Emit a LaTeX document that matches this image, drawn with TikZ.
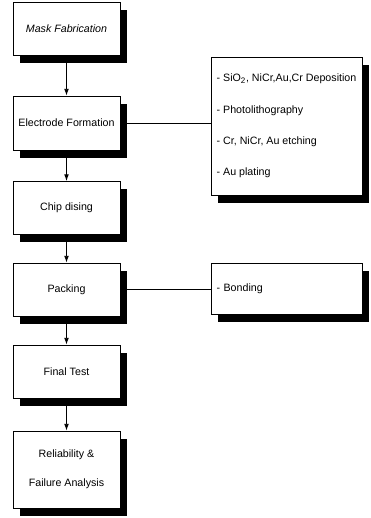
\documentclass[tikz,border=0pt]{standalone}
\usepackage{fontspec}
\setmainfont{Liberation Sans}
\usetikzlibrary{shadows,backgrounds,arrows.meta}

\tikzset{
  stepbox/.style={draw=black, line width=0.6pt, fill=white,
    minimum width=80.25pt, minimum height=39.75pt, align=center,
    font=\fontsize{8}{9.6}\selectfont,
    drop shadow={shadow xshift=5.25pt, shadow yshift=-6pt, fill=black, opacity=1}},
  notebox/.style={stepbox, minimum width=113.25pt, align=left, anchor=center},
  flow/.style={-{Latex[length=5pt,width=3.5pt]}, line width=0.6pt},
  link/.style={line width=0.6pt}
}

\begin{document}
\begin{tikzpicture}[x=0.75pt,y=0.75pt]
\useasboundingbox (0,0) rectangle (371,518);

% ================= LEFT: PROCESS STEPS =================
\node[stepbox, font=\fontsize{8}{9.6}\selectfont\itshape] (mask) at (66.5,489) {Mask Fabrication};
\node[stepbox, minimum height=40.5pt] (elec) at (66.5,395) {Electrode Formation};
\node[stepbox] (chip) at (66.5,310) {Chip dising};
\node[stepbox] (pack) at (66.5,228.5) {Packing};
\node[stepbox] (final) at (66.5,146.5) {Final Test};
\node[stepbox, minimum height=57.75pt] (rel) at (66.5,48.5)
{Reliability \&\\[12pt] Failure Analysis};

% ================= RIGHT: DETAILS =================
\node[notebox, minimum height=103.5pt] (elecsteps) at (286.5,392)
{- SiO\textsubscript{2}, NiCr,Au,Cr Deposition\\[14pt]
- Photolithography\\[14pt]
- Cr, NiCr, Au etching\\[14pt]
- Au plating};
\node[notebox, minimum height=38.25pt, text width=105pt] (packsteps) at (286.5,229.5)
{- Bonding};

% ================= CONNECTORS =================
\begin{scope}[on background layer]
\draw[flow] (mask) -- (elec);
\draw[flow] (elec) -- (chip);
\draw[flow] (chip) -- (pack);
\draw[flow] (pack) -- (final);
\draw[flow] (final) -- (rel);
\draw[link] (elec.east) -- (elec.east -| elecsteps.west);
\draw[link] (pack.east) -- (pack.east -| packsteps.west);
\end{scope}

\end{tikzpicture}
\end{document}
